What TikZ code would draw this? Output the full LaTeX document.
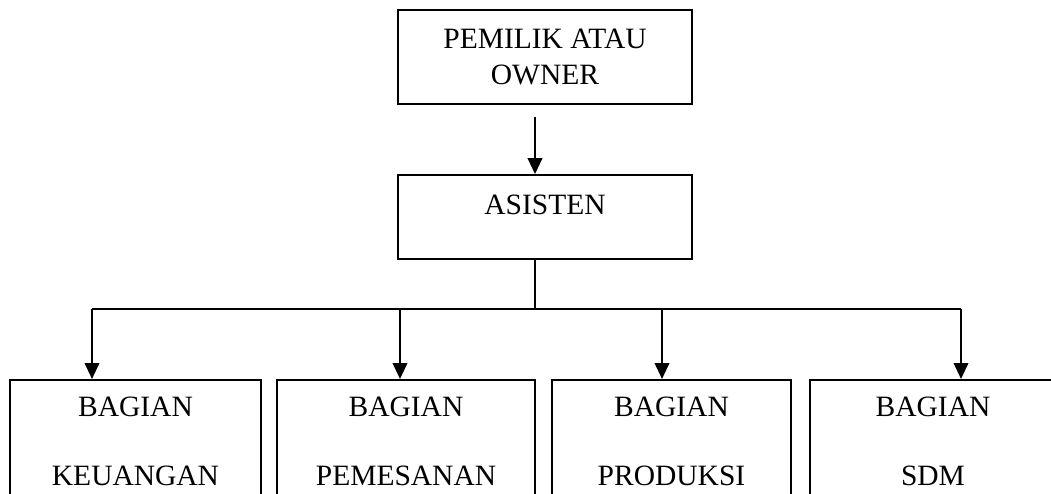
\documentclass[tikz,border=0pt]{standalone}
\usepackage{fontspec}
\setmainfont{Liberation Serif}
\usetikzlibrary{arrows.meta}

\begin{document}
\begin{tikzpicture}[x=1pt, y=-1pt, >={Triangle[width=14.5pt,length=16pt]},
    box/.style={draw, line width=1.8pt, inner sep=0pt, align=center},
    atas/.style={box, minimum width=294pt, font=\fontsize{29.5}{36}\selectfont},
    bawah/.style={box, anchor=north, inner ysep=17pt, font=\fontsize{29.5}{69}\selectfont},
    garis/.style={line width=1.7pt},
    panah/.style={->, line width=2.3pt}]
	\useasboundingbox (0,0) rectangle (1051,494);

	% ================= pimpinan =================
	\node[atas, minimum height=94pt] (owner) at (545,57) {PEMILIK ATAU\\OWNER};
	\node[atas, minimum height=84pt, text height=20pt, text depth=24pt] (asisten) at (545,217) {ASISTEN};

	\draw[panah, shorten <=12pt] ([xshift=-10pt]owner.south) -- ([xshift=-10pt]asisten.north);

	% ================= bagian =================
	\node[bawah, minimum width=251pt] (keuangan) at (135.5,379) {BAGIAN\\KEUANGAN};
	\node[bawah, minimum width=258pt] (pemesanan) at (406,379) {BAGIAN\\PEMESANAN};
	\node[bawah, minimum width=239pt] (produksi) at (671.5,379) {BAGIAN\\PRODUKSI};
	\node[bawah, minimum width=246pt] (sdm) at (933,379) {BAGIAN\\SDM};

	% garis cabang
	\coordinate (cabang) at (535,309);
	\coordinate (kiri) at (92,309);
	\coordinate (kanan) at (961,309);
	\draw[garis] ([xshift=-10pt]asisten.south) -- (cabang);
	\draw[garis] (kiri) -- (kanan);
	\foreach \x/\n in {92/keuangan, 400/pemesanan, 662/produksi, 961/sdm}
		\draw[panah] (\x,309) -- (\x,309 |- \n.north);
\end{tikzpicture}
\end{document}
